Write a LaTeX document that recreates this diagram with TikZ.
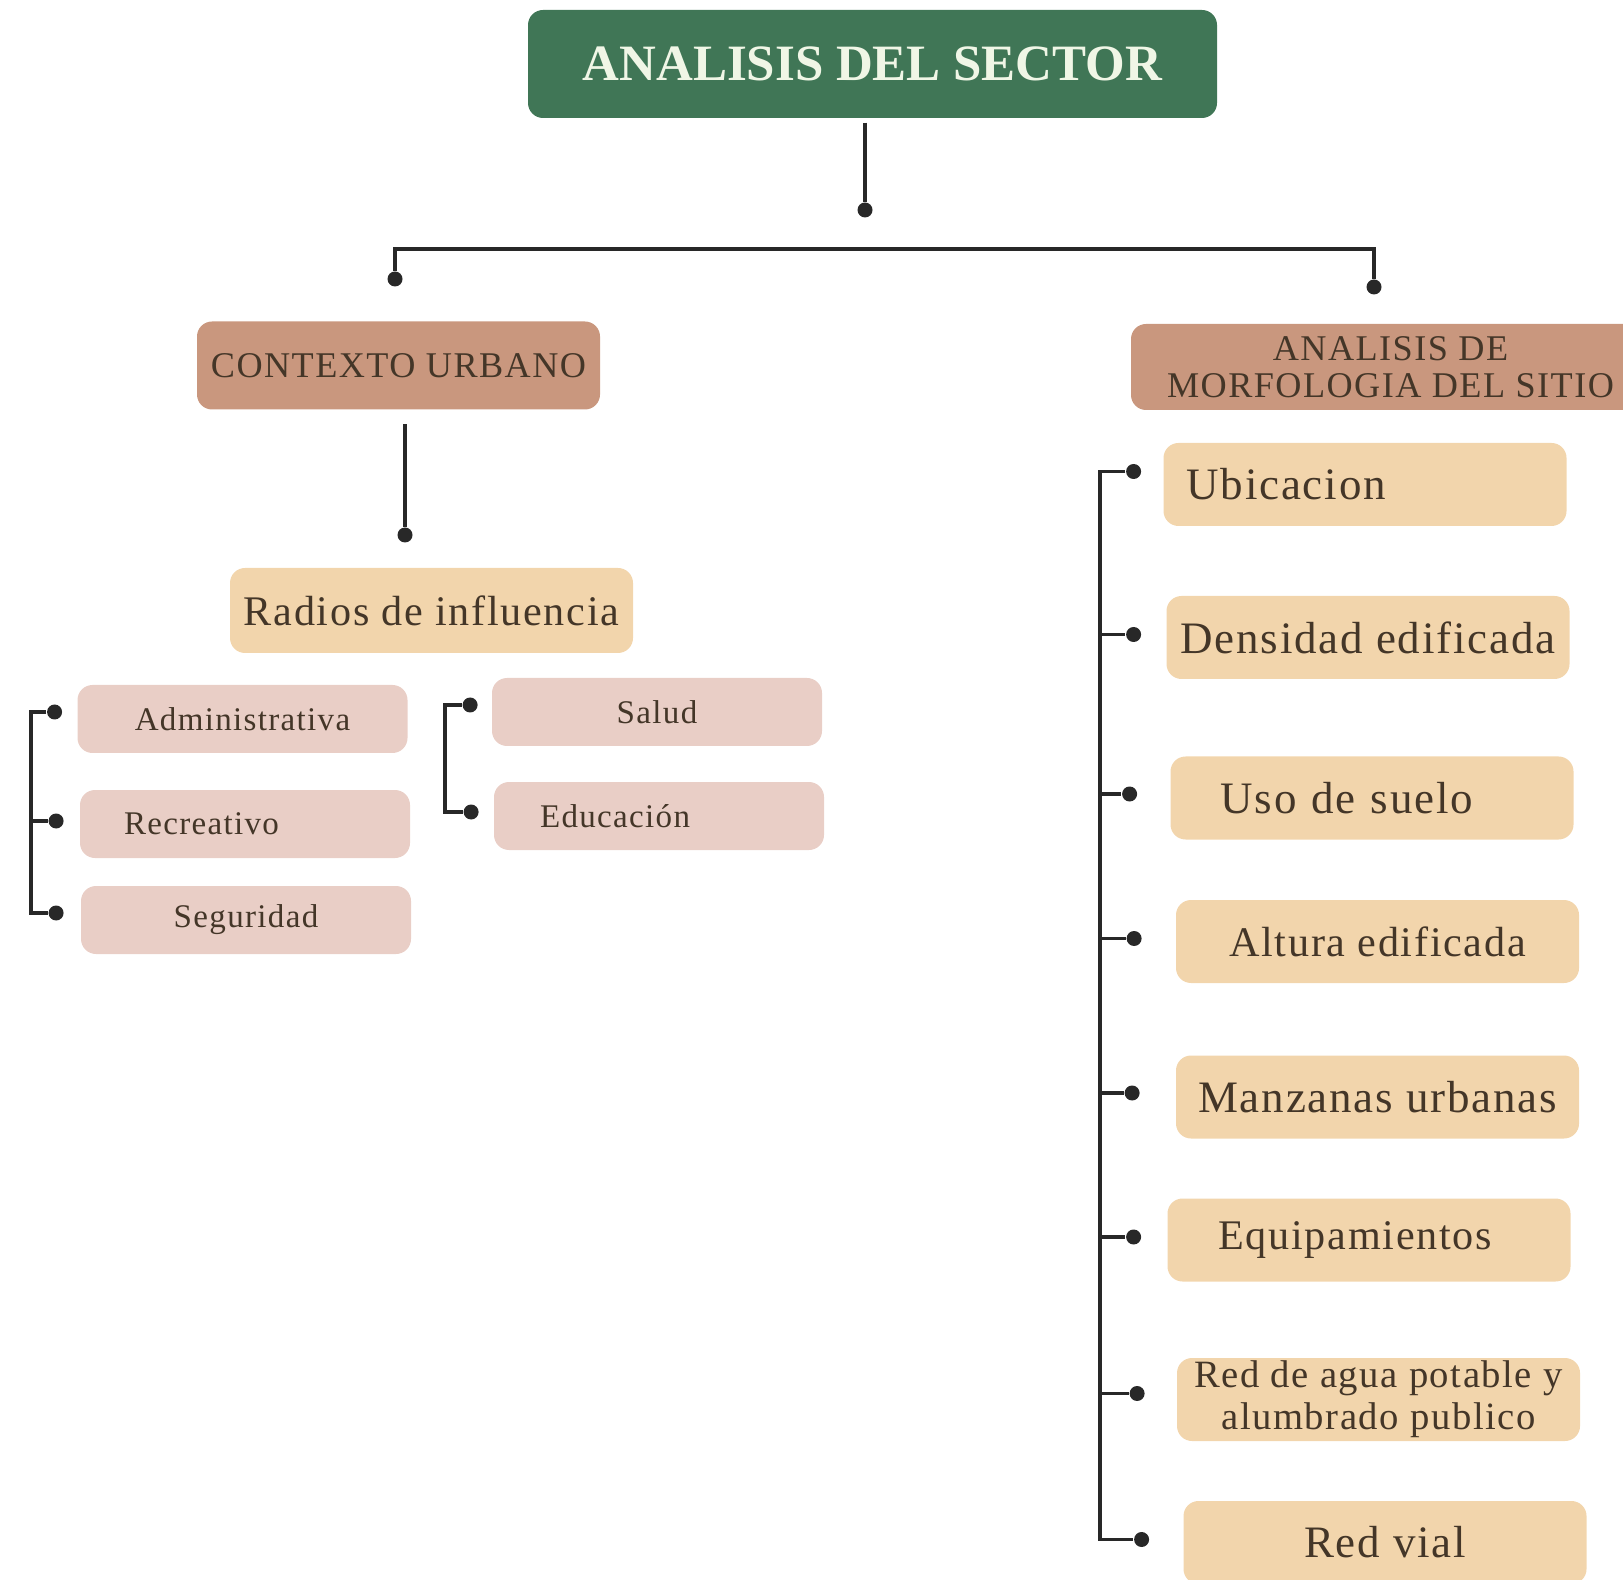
\documentclass[tikz,border=0pt]{standalone}
\usepackage{fontspec}
\setmainfont{Liberation Serif}
\newfontfamily\boxfont[LetterSpace=4]{Liberation Serif}
\usepackage{tikz}
\usetikzlibrary{
	positioning,
	calc
}

\definecolor{sectorgreen}{RGB}{64,118,86}
\definecolor{headbrown}{RGB}{201,151,126}
\definecolor{itempeach}{RGB}{242,213,172}
\definecolor{subpink}{RGB}{233,206,198}
\definecolor{textdark}{RGB}{68,54,40}
\definecolor{titletext}{RGB}{240,246,230}
\definecolor{linegray}{RGB}{40,40,40}

\begin{document}
\begin{tikzpicture}[
				stage/.style={
					rectangle, rounded corners=0.15cm,
					align=center, text=textdark, inner sep=0pt
				},
				titlebox/.style={
					stage, fill=sectorgreen, text=titletext,
					minimum width=6.89cm, minimum height=1.08cm,
					font=\fontsize{14.5}{17}\selectfont\bfseries
				},
				headbox/.style={
					stage, fill=headbrown, minimum height=0.88cm,
					font=\boxfont\fontsize{10.3}{10.5}\selectfont
				},
				peachbox/.style={
					stage, fill=itempeach,
					minimum width=4.03cm, minimum height=0.83cm,
					font=\boxfont\fontsize{12.8}{15}\selectfont
				},
				pinkbox/.style={
					stage, fill=subpink,
					minimum width=3.30cm, minimum height=0.68cm,
					font=\boxfont\fontsize{9.4}{12}\selectfont
				},
				dot/.style={circle, fill=linegray, inner sep=0pt, minimum size=0.15cm},
				link/.style={line width=1.1pt, draw=linegray}
				]
				
				\useasboundingbox (0,0) rectangle (16.23,-15.80);
				
				% title
				\node[titlebox] (sector) at (8.725,-0.64) {ANALISIS DEL SECTOR};
				\node[dot] (dTop) at (8.65,-2.10) {};
				\coordinate (topbar) at (0,-2.49);
				
				% two branches
				\node[headbox, minimum width=4.03cm] (contexto) at (3.985,-3.655) {CONTEXTO URBANO};
				\node[headbox, minimum width=5.19cm, minimum height=0.86cm] (morfologia) at (13.905,-3.67) {ANALISIS DE\\MORFOLOGIA DEL SITIO};
				\node[dot] (dContexto) at (3.95,-2.79) {};
				\node[dot] (dMorfologia) at (13.74,-2.87) {};
				
				% radios de influencia
				\node[dot] (dRadios) at (4.05,-5.35) {};
				\node[peachbox, minimum height=0.85cm, font=\boxfont\fontsize{12}{15}\selectfont] (radios) at (4.315,-6.105) {Radios de influencia};
				
				% left group
				\coordinate (lbar) at (0.31,0);
				\node[pinkbox] (admin) at (2.425,-7.19) {Administrativa};
				\node[pinkbox, align=left, text width=2.42cm, inner xsep=0.44cm] (recreativo) at (2.45,-8.24) {Recreativo};
				\node[pinkbox] (seguridad) at (2.46,-9.20) {Seguridad};
				\node[dot, left=0.14cm of admin, yshift=0.07cm] (dAdmin) {};
				\node[dot, left=0.15cm of recreativo, yshift=0.03cm] (dRecreativo) {};
				\node[dot, left=0.16cm of seguridad, yshift=0.07cm] (dSeguridad) {};
				
				% middle group
				\coordinate (mbar) at (4.45,0);
				\node[pinkbox] (salud) at (6.57,-7.12) {Salud};
				\node[pinkbox, align=left, text width=2.38cm, inner xsep=0.46cm] (educacion) at (6.59,-8.16) {Educación};
				\node[dot, left=0.13cm of salud, yshift=0.07cm] (dSalud) {};
				\node[dot, left=0.14cm of educacion, yshift=0.04cm] (dEducacion) {};
				
				% right column
				\coordinate (rbar) at (11.00,0);
				\node[peachbox, align=left, text width=3.57cm, inner xsep=0.23cm] (ubicacion) at (13.65,-4.845) {Ubicacion};
				\node[peachbox] (densidad) at (13.68,-6.375) {Densidad edificada};
				\node[peachbox, align=left, text width=3.03cm, inner xsep=0.50cm] (uso) at (13.72,-7.98) {Uso de suelo};
				\node[peachbox, font=\boxfont\fontsize{12}{15}\selectfont] (altura) at (13.775,-9.415) {Altura edificada};
				\node[peachbox] (manzanas) at (13.775,-10.97) {Manzanas urbanas};
				\node[peachbox, align=left, text width=3.01cm, inner xsep=0.51cm, font=\boxfont\fontsize{12}{15}\selectfont] (equipamientos) at (13.69,-12.40) {Equipamientos};
				\node[peachbox, font=\boxfont\fontsize{11}{12}\selectfont] (agua) at (13.785,-13.995) {Red de agua potable y\\alumbrado publico};
				\node[peachbox] (vial) at (13.85,-15.425) {Red vial};
				\node[dot, left=0.21cm of ubicacion, yshift=0.13cm] (dUbicacion) {};
				\node[dot, left=0.24cm of densidad, yshift=0.03cm] (dDensidad) {};
				\node[dot, left=0.32cm of uso, yshift=0.04cm] (dUso) {};
				\node[dot, left=0.33cm of altura, yshift=0.03cm] (dAltura) {};
				\node[dot, left=0.35cm of manzanas, yshift=0.04cm] (dManzanas) {};
				\node[dot, left=0.25cm of equipamientos, yshift=0.03cm] (dEquipamientos) {};
				\node[dot, left=0.31cm of agua, yshift=0.06cm] (dAgua) {};
				\node[dot, left=0.33cm of vial, yshift=0.03cm] (dVial) {};
				
				% connectors
				\draw[link, shorten <=0.04cm] (sector.south -| dTop) -- (dTop);
				\draw[link] (dContexto) -- (dContexto |- topbar) -- (dMorfologia |- topbar) -- (dMorfologia);
				\draw[link, shorten <=0.14cm] (contexto.south -| dRadios) -- (dRadios);
				\draw[link] (dAdmin) -- (dAdmin -| lbar) -- (dSeguridad -| lbar) -- (dSeguridad);
				\draw[link] (dRecreativo -| lbar) -- (dRecreativo);
				\draw[link] (dSalud) -- (dSalud -| mbar) -- (dEducacion -| mbar) -- (dEducacion);
				\draw[link] (dUbicacion) -- (dUbicacion -| rbar) -- (dVial -| rbar) -- (dVial);
				\foreach \n in {Densidad,Uso,Altura,Manzanas,Equipamientos,Agua}
					\draw[link] (d\n -| rbar) -- (d\n);
			\end{tikzpicture}
\end{document}
